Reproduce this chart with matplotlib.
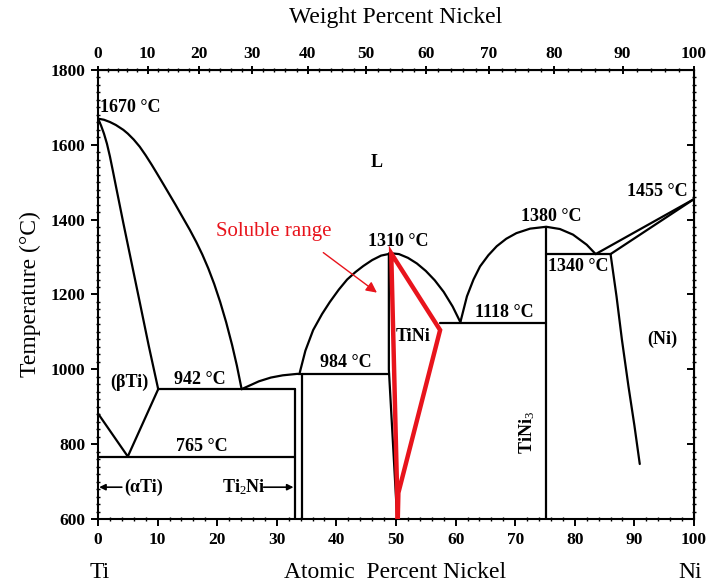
import numpy as np
import matplotlib
matplotlib.use('Agg')
import matplotlib.pyplot as plt
from matplotlib.ticker import MultipleLocator, FixedLocator

plt.rcParams['font.family'] = ['Liberation Serif', 'DejaVu Serif']
plt.rcParams['mathtext.fontset'] = 'custom'
plt.rcParams['mathtext.rm'] = 'Liberation Serif'
plt.rcParams['mathtext.it'] = 'Liberation Serif:italic'
plt.rcParams['mathtext.bf'] = 'Liberation Serif:bold'

# ---------------- data (atomic % Ni, temperature in C) ----------------
liq_ti_x = [0, 1, 2, 3, 4.25, 5, 6, 7, 8, 9, 9.8, 11, 12, 13, 14, 15.4,
            16.5, 17.5, 18.5, 19.5, 20.5, 21.5, 22.5, 23.3, 24.1]
liq_ti_t = [1670, 1667, 1661, 1653, 1640, 1630, 1614, 1595, 1572, 1547, 1526, 1494,
            1467, 1440, 1412, 1373, 1340, 1307, 1270, 1228, 1180, 1126, 1065, 1010, 947]

sol_bti_x = [0, 0.5, 1, 1.5, 2, 2.5, 3, 4.25, 5.5, 7.05, 8.5, 10.1]
sol_bti_t = [1670, 1652, 1630, 1603, 1569, 1530, 1490, 1391, 1295, 1176, 1064, 947]

ati_x = [0, 5.0, 10.1]
ati_t = [882, 767, 947]

eut_765_x = [0, 33.05]
eut_765_t = [767, 767]
eut_942_x = [10.1, 33.05]
eut_942_t = [947, 947]

ti2ni_a_x = [33.05, 33.05]
ti2ni_a_t = [600, 947]
ti2ni_b_x = [34.2, 34.2]
ti2ni_b_t = [600, 987]

liq_ti2ni_x = [24.1, 25.2, 27, 29, 31, 33.5]
liq_ti2ni_t = [947, 955, 968, 978, 984, 988]

per_984_x = [33.5, 48.8]
per_984_t = [987, 987]

tini_dome_x = [33.8, 34.8, 36.1, 37.6, 38.9, 40.4, 41.8, 43.2, 44.5, 46, 47.5, 49.3,
               50.5, 52, 53.5, 55, 56.5, 58, 59.5, 60.8]
tini_dome_t = [988, 1050, 1105, 1148, 1180, 1213, 1240, 1260, 1276, 1292, 1304, 1310,
               1308, 1298, 1283, 1263, 1238, 1207, 1168, 1126]

tini_left_x = [48.8, 48.8, 50.2]
tini_left_t = [1310, 1000, 600]

eut_1118_x = [57.4, 75.1]
eut_1118_t = [1125, 1125]

tini3_dome_x = [60.8, 61.9, 63.0, 64.1, 65.5, 66.9, 68.5, 70.2, 72.5, 75.2, 77.5, 79.7, 82.0, 83.5]
tini3_dome_t = [1126, 1195, 1240, 1275, 1305, 1329, 1349, 1364, 1376, 1381, 1375, 1360, 1333, 1308]

tini3_line_x = [75.1, 75.1]
tini3_line_t = [600, 1381]

eut_1304_x = [75.1, 86.0]
eut_1304_t = [1308, 1308]

liq_ni_x = [83.5, 100]
liq_ni_t = [1308, 1455]
sol_ni_x = [86.0, 100]
sol_ni_t = [1308, 1455]

solvus_ni_x = [86.0, 87.0, 87.9, 89.0, 90.0, 90.9]
solvus_ni_t = [1308, 1195, 1080, 955, 850, 747]

red_x = [50.3, 49.2, 57.4, 50.4, 50.3]
red_t = [600, 1310, 1105, 670, 600]

at_ticks = [0, 10, 20, 30, 40, 50, 60, 70, 80, 90, 100]
wt_ticks = [0, 10, 20, 30, 40, 50, 60, 70, 80, 90, 100]
t_ticks = [600, 800, 1000, 1200, 1400, 1600, 1800]

M_NI = 58.69
M_TI = 47.87


def at_to_wt(a):
    a = np.asarray(a, dtype=float)
    with np.errstate(divide='ignore', invalid='ignore'):
        return 100.0 * a * M_NI / (a * M_NI + (100.0 - a) * M_TI)


def wt_to_at(w):
    w = np.asarray(w, dtype=float)
    with np.errstate(divide='ignore', invalid='ignore'):
        return 100.0 * (w / M_NI) / (w / M_NI + (100.0 - w) / M_TI)


# ---------------- figure ----------------
W, H = 712, 588
fig = plt.figure(figsize=(W / 100, H / 100), dpi=100)
ax = fig.add_axes([98 / W, 1 - 519 / H, (694 - 98) / W, (519 - 70) / H])
ax.set_xlim(0, 100)
ax.set_ylim(600, 1800)

lw = 1.6
k = 'black'
for xs, ts in [(liq_ti_x, liq_ti_t), (sol_bti_x, sol_bti_t), (ati_x, ati_t),
               (eut_765_x, eut_765_t), (eut_942_x, eut_942_t),
               (ti2ni_a_x, ti2ni_a_t), (ti2ni_b_x, ti2ni_b_t),
               (liq_ti2ni_x, liq_ti2ni_t), (per_984_x, per_984_t),
               (tini_dome_x, tini_dome_t), (tini_left_x, tini_left_t),
               (eut_1118_x, eut_1118_t), (tini3_dome_x, tini3_dome_t),
               (tini3_line_x, tini3_line_t), (eut_1304_x, eut_1304_t),
               (liq_ni_x, liq_ni_t), (sol_ni_x, sol_ni_t),
               (solvus_ni_x, solvus_ni_t)]:
    ax.plot(xs, ts, color=k, lw=lw, solid_joinstyle='round', solid_capstyle='round')

red = '#e8141c'
ax.plot(red_x, red_t, color=red, lw=3.2, solid_joinstyle='miter', zorder=5)

# ---------------- axes styling ----------------
for s in ax.spines.values():
    s.set_linewidth(1.5)

ax.xaxis.set_major_locator(FixedLocator(at_ticks))
ax.xaxis.set_minor_locator(MultipleLocator(2))
ax.yaxis.set_major_locator(FixedLocator(t_ticks))
ax.yaxis.set_minor_locator(MultipleLocator(20))
ax.tick_params(axis='both', which='major', direction='out', length=5, width=1.4,
               labelsize=12.5, pad=4)
ax.tick_params(axis='both', which='minor', direction='inout', length=3, width=1.0)
ax.tick_params(top=False, right=False)
for lab in ax.get_xticklabels() + ax.get_yticklabels():
    lab.set_fontweight('bold')

secx = ax.secondary_xaxis('top', functions=(at_to_wt, wt_to_at))
secx.set_xticks(wt_ticks)
secx.xaxis.set_minor_locator(MultipleLocator(2))
secx.tick_params(which='major', direction='inout', length=6, width=1.4,
                 labelsize=12.5, pad=3)
secx.tick_params(which='minor', direction='inout', length=3, width=1.0)
for lab in secx.get_xticklabels():
    lab.set_fontweight('bold')
secx.set_xlabel('Weight Percent Nickel', fontsize=17, labelpad=16)

secy = ax.secondary_yaxis('right')
secy.set_yticks(t_ticks)
secy.yaxis.set_minor_locator(MultipleLocator(20))
secy.tick_params(which='major', direction='in', length=5, width=1.4, labelright=False)
secy.tick_params(which='minor', direction='inout', length=3, width=1.0)

ax.set_ylabel('Temperature (\u00b0C)', fontsize=17, labelpad=7)
fig.text(395 / W, 1 - 573 / H, 'Atomic  Percent Nickel', fontsize=17,
         ha='center', va='center')
fig.text(100 / W, 1 - 573 / H, 'Ti', fontsize=17, ha='center', va='center')
fig.text(690 / W, 1 - 573 / H, 'Ni', fontsize=17, ha='center', va='center')

# ---------------- annotations ----------------
fs = 13
def lab(x, t, s, ha='center', **kw):
    ax.text(x, t, s, fontsize=kw.pop('fontsize', fs), ha=ha, va='center',
            fontweight=kw.pop('fontweight', 'bold'), **kw)

lab(0.3, 1699, '1670 \u00b0C', ha='left')
lab(46.7, 1553, 'L')
lab(50.3, 1341, '1310 \u00b0C')
lab(76.0, 1408, '1380 \u00b0C')
lab(99.0, 1475, '1455 \u00b0C', ha='right')
lab(80.5, 1275, '1340 \u00b0C')
lab(68.1, 1152, '1118 \u00b0C')
lab(52.9, 1088, 'TiNi')
lab(94.6, 1080, '(Ni)')
lab(41.6, 1019, '984 \u00b0C')
lab(5.2, 965, '(\u03b2Ti)')
lab(17.1, 973, '942 \u00b0C')
lab(17.4, 795, '765 \u00b0C')
lab(7.6, 685, '(\u03b1Ti)')
lab(24.4, 685, r'Ti$_\mathrm{2}$Ni')
lab(72.0, 832, r'TiNi$_\mathrm{3}$', rotation=90)

ax.annotate('', xy=(0.2, 685), xytext=(4.0, 685),
            arrowprops=dict(arrowstyle='-|>', color='black', lw=1.2,
                            mutation_scale=9, shrinkA=0, shrinkB=0))
ax.annotate('', xy=(32.8, 685), xytext=(27.8, 685),
            arrowprops=dict(arrowstyle='-|>', color='black', lw=1.2,
                            mutation_scale=9, shrinkA=0, shrinkB=0))

ax.text(29.5, 1368, 'Soluble range', color=red, fontsize=15, ha='center', va='center')
ax.annotate('', xy=(46.8, 1205), xytext=(37.8, 1312),
            arrowprops=dict(arrowstyle='-|>', color=red, lw=1.0,
                            mutation_scale=16, shrinkA=0, shrinkB=0))

fig.savefig('out.png', dpi=100)
